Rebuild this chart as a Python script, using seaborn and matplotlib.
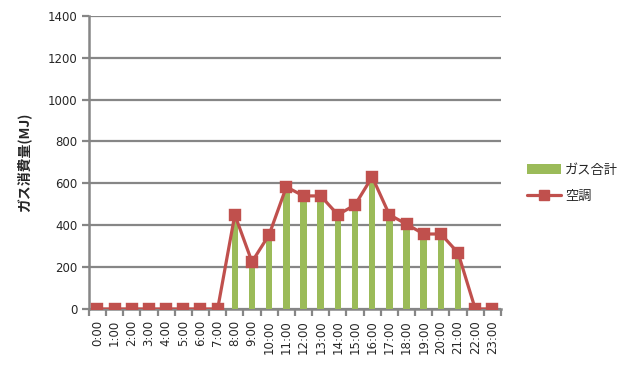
import matplotlib
matplotlib.use("Agg")
import matplotlib.pyplot as plt
import seaborn as sns
import pandas as pd
from matplotlib.lines import Line2D
from matplotlib.patches import Patch

hours = [f"{h}:00" for h in range(24)]
gas_total = [0, 0, 0, 0, 0, 0, 0, 0, 440, 220, 350, 575, 535, 535, 445, 490,
             625, 445, 400, 355, 355, 265, 0, 0]
aircon = [0, 0, 0, 0, 0, 0, 0, 0, 450, 225, 355, 583, 540, 540, 450, 497,
          631, 450, 405, 358, 358, 268, 0, 0]

df = pd.DataFrame({"hour": hours, "gas": gas_total, "ac": aircon})

sns.set_style("white")
plt.rcParams['font.family'] = ['DejaVu Sans', 'Noto Sans CJK JP']

bar_col = "#9BBB59"
line_col = "#C0504D"
grid_col = "#868686"

fig = plt.figure(figsize=(6.17, 3.70), dpi=100)
ax = fig.add_axes([0.144, 0.165, 0.668, 0.792])

sns.barplot(data=df, x="hour", y="gas", color=bar_col, width=0.38,
            saturation=1, linewidth=0, ax=ax)
for p in ax.patches:
    p.set_zorder(2)
    p.set_edgecolor("none")
sns.pointplot(data=df, x="hour", y="ac", color=line_col, marker="s",
              markersize=7, linewidth=2.3, ax=ax)
for ln in ax.lines:
    ln.set_zorder(3)
for c in ax.collections:
    c.set_zorder(4)

ax.set_ylim(0, 1400)
ax.set_yticks(range(0, 1401, 200))
ax.set_xlim(-0.5, 23.5)
ax.set_axisbelow(True)
ax.yaxis.grid(True, color=grid_col, linewidth=1.6)
ax.xaxis.grid(False)

for s in ["top", "right"]:
    ax.spines[s].set_visible(False)
for s in ["left", "bottom"]:
    ax.spines[s].set_color(grid_col)
    ax.spines[s].set_linewidth(1.8)
    ax.spines[s].set_zorder(1)

ax.tick_params(axis="y", direction="out", length=5, width=1.6, color=grid_col,
               labelsize=8.5, pad=3, left=True)
ax.set_xticks(range(24))
ax.set_xticklabels(hours, rotation=90, fontsize=8.5)
ax.tick_params(axis="x", which="major", length=0, pad=8)
ax.set_xticks([i - 0.5 for i in range(25)], minor=True)
ax.tick_params(axis="x", which="minor", direction="out", length=5, width=1.6,
               color=grid_col, bottom=True)

ax.set_xlabel("")
ax.set_ylabel("ガス消費量(MJ)", fontsize=10, fontweight="bold",
              family=['Noto Sans CJK JP', 'DejaVu Sans'], labelpad=12)

handles = [Patch(facecolor=bar_col, edgecolor="none"),
           Line2D([0], [0], color=line_col, marker="s", markersize=7, linewidth=2.3)]
fig.legend(handles, ["ガス合計", "空調"], loc="center left",
           bbox_to_anchor=(0.835, 0.505), frameon=False,
           handlelength=2.6, labelspacing=1.0, handletextpad=0.3,
           prop={'family': ['Noto Sans CJK JP', 'DejaVu Sans'], 'size': 9.5})

fig.savefig("out.png", dpi=100)
